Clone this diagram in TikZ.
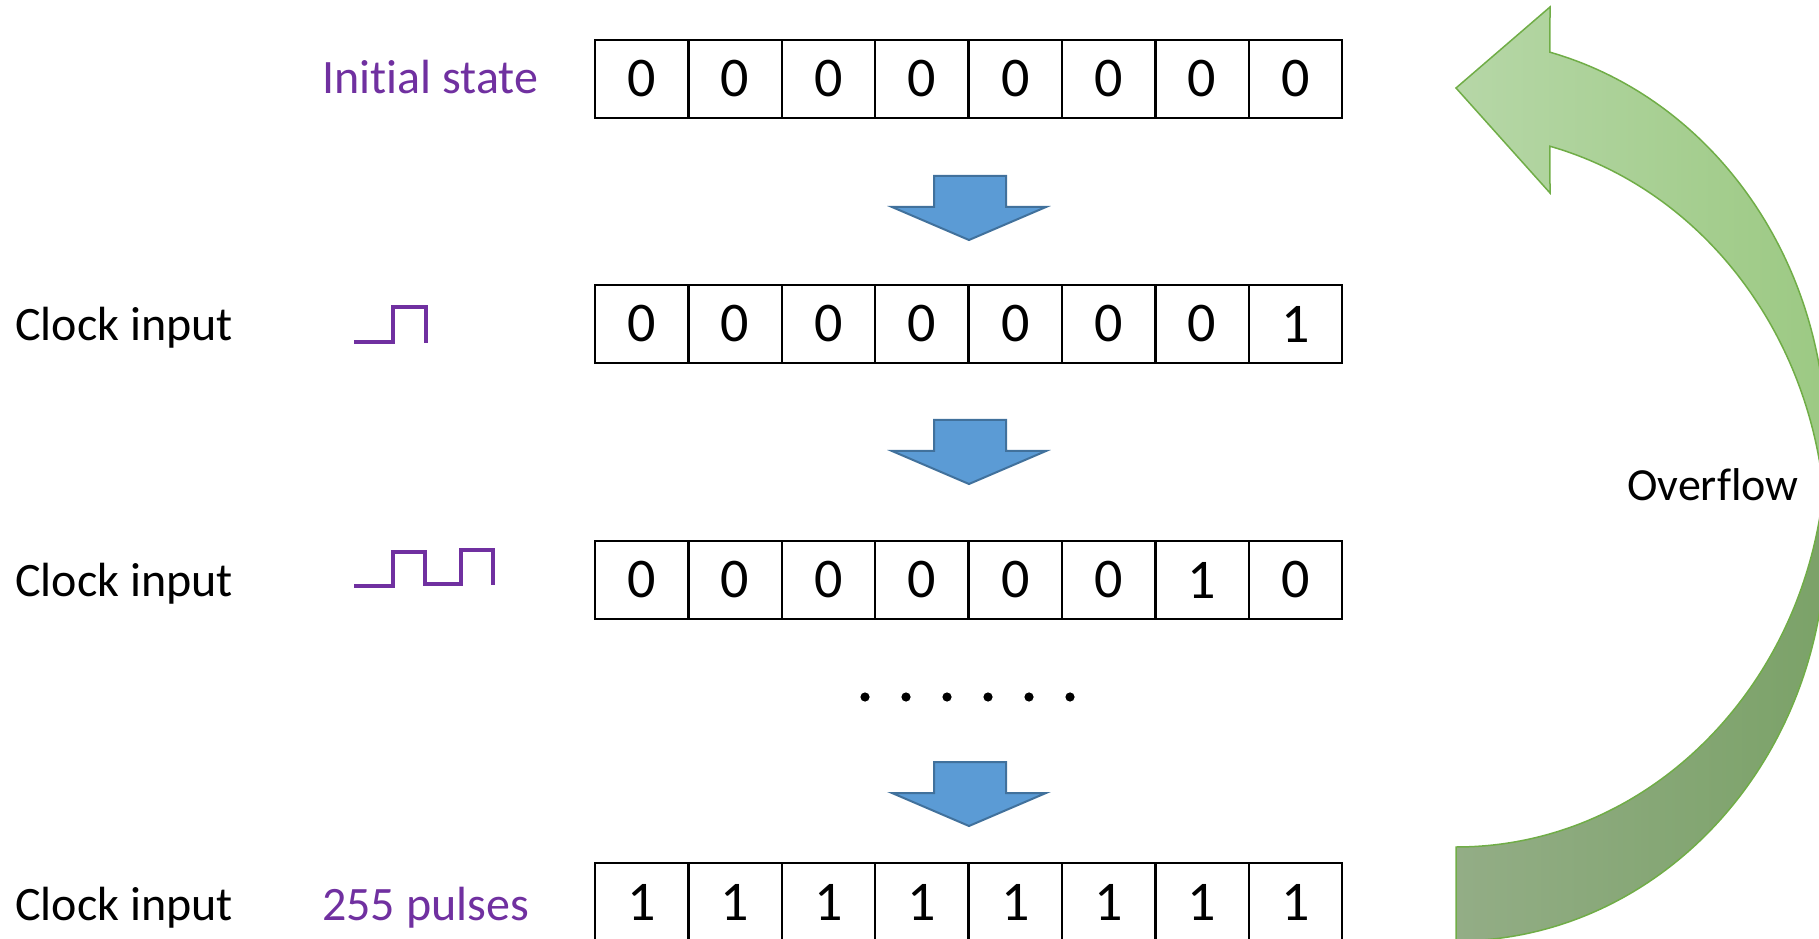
\documentclass[tikz,border=0pt]{standalone}
\usepackage{fontspec}
\setmainfont{Carlito}[Ligatures=NoCommon]
\definecolor{wavepurple}{RGB}{112,48,160}
\definecolor{arrowblue}{RGB}{91,155,213}
\definecolor{arrowedge}{RGB}{65,113,156}
\definecolor{gFrontL}{RGB}{182,215,167}
\definecolor{gFrontR}{RGB}{156,201,131}
\definecolor{gBackL}{RGB}{147,173,134}
\definecolor{gBackR}{RGB}{123,162,104}
\definecolor{gEdge}{RGB}{112,173,71}
\newcommand{\lblfnt}{\fontsize{48}{57}\selectfont}
\newcommand{\ovffnt}{\fontsize{46}{55}\selectfont}
\newcommand{\digfnt}{\fontsize{56}{66}\selectfont}
\begin{document}
\begin{tikzpicture}[x=1pt,y=1pt,
  cell/.style={draw=black, line width=2.5pt, minimum width=93.4pt, minimum height=78pt, inner sep=0pt, font=\digfnt},
  lbl/.style={anchor=base west, inner sep=0pt, font=\lblfnt},
  blockarrow/.style={fill=arrowblue, draw=arrowedge, line width=2pt, line join=miter},
  wave/.style={draw=wavepurple, line width=4.5pt, line join=miter},
  greenpart/.style={draw=gEdge, line width=1.5pt}]
\useasboundingbox (0,0) rectangle (1819,938);
\clip (0,0) rectangle (1819,938);

% registers
\foreach \d [count=\i] in {0,0,0,0,0,0,0,0}
  \node[cell] (r1c\i) at ({595+93.4*(\i-0.5)},859) {\d};
\foreach \d [count=\i] in {0,0,0,0,0,0,0,1}
  \node[cell] (r2c\i) at ({595+93.4*(\i-0.5)},614) {\d};
\foreach \d [count=\i] in {0,0,0,0,0,0,1,0}
  \node[cell] (r3c\i) at ({595+93.4*(\i-0.5)},358) {\d};
\foreach \d [count=\i] in {1,1,1,1,1,1,1,1}
  \node[cell] (r4c\i) at ({595+93.4*(\i-0.5)},36) {\d};

% labels
\node[lbl, text=wavepurple] (init) at (322,844) {Initial state};
\node[lbl] (clk1) at (15,597) {Clock input};
\node[lbl] (clk2) at (15,342) {Clock input};
\node[lbl] (clk3) at (15,18) {Clock input};
\node[lbl, text=wavepurple] (pulses) at (322,18) {255 pulses};

% clock waveforms
\draw[wave] (354,596) -- (393,596) -- (393,631) -- (426,631) -- (426,595);
\draw[wave] (354,352) -- (393,352) -- (393,386) -- (425,386) -- (425,354)
  -- (461,354) -- (461,388) -- (493,388) -- (493,353);

% block arrows
\foreach \t in {762,518,176}
  \draw[blockarrow] (934,\t) -- (1006,\t) -- (1006,\t-31) -- (1046,\t-31)
    -- (969,\t-64) -- (892,\t-31) -- (934,\t-31) -- cycle;

% dots
\foreach \x in {865,906,947,988,1029,1070}
  \fill (\x,241) circle (4.6);

% green overflow arrow
\shade[greenpart, left color=gBackL, right color=gBackR]
  (1826,495) arc[start angle=0, end angle=-90, x radius=370, y radius=404]
  -- (1456,-3) arc[start angle=-90, end angle=0, x radius=370, y radius=404]
  -- cycle;
\shade[greenpart, left color=gFrontL, right color=gFrontR]
  (1549.9,885.8) arc[start angle=75.3, end angle=0, x radius=370, y radius=404]
  -- (1826,401) arc[start angle=0, end angle=75.3, x radius=370, y radius=404]
  -- (1550,745) -- (1456,850) -- (1550,931) -- cycle;

\node[lbl, font=\ovffnt] (ovf) at (1627,438) {Overflow};
\end{tikzpicture}
\end{document}
